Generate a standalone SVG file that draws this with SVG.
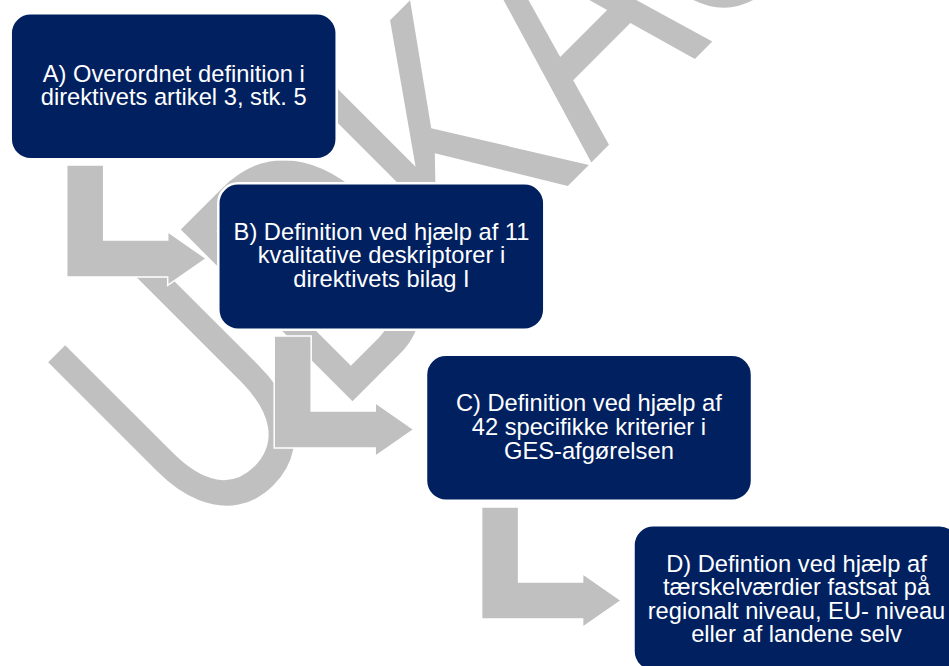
<svg xmlns="http://www.w3.org/2000/svg" width="949" height="666" viewBox="0 0 949 666">
<style>
.box{fill:#002060;stroke:#ffffff;stroke-width:2.5}
.lbl{fill:#ffffff;font-family:"Liberation Sans",Arial,sans-serif;font-size:23.7px;text-anchor:middle}
.arrow{fill:#bfc0bf;stroke:#ffffff;stroke-width:1.5}
.wm{fill:#c0c0c0;font-family:"Liberation Sans",Arial,sans-serif;font-size:258px}
</style>
<defs>
<path id="bend" d="M0,0 h37 v75 h64 v-8.3 l38.5,26.8 l-38.5,26.8 v-8.3 h-101 z"/>
</defs>
<rect width="949" height="666" fill="#ffffff"/>
<text class="wm" transform="translate(205.8,548) rotate(-45) scale(1,1.368)" x="0" y="0">UDKAST</text>
<g id="connectors">
<use href="#bend" class="arrow" transform="translate(66.7,165)"/>
<use href="#bend" class="arrow" transform="translate(274.2,336)"/>
<use href="#bend" class="arrow" transform="translate(481.6,507)"/>
</g>
<g id="nodeA">
<rect class="box" x="10.7" y="13.3" width="326" height="146" rx="20"/>
<text class="lbl" x="173.7" y="82.3">A) Overordnet definition i</text>
<text class="lbl" x="173.7" y="105">direktivets artikel 3, stk. 5</text>
</g>
<g id="nodeB">
<rect class="box" x="218.3" y="183.3" width="326" height="146.5" rx="20"/>
<text class="lbl" x="381.5" y="239.5">B) Definition ved hjælp af 11</text>
<text class="lbl" x="381.5" y="263.2">kvalitative deskriptorer i</text>
<text class="lbl" x="381.5" y="286.5">direktivets bilag I</text>
</g>
<g id="nodeC">
<rect class="box" x="426" y="354.7" width="326" height="146" rx="20"/>
<text class="lbl" x="588.9" y="411.3">C) Definition ved hjælp af</text>
<text class="lbl" x="588.9" y="435">42 specifikke kriterier i</text>
<text class="lbl" x="588.9" y="459">GES-afgørelsen</text>
</g>
<g id="nodeD">
<rect class="box" x="633.5" y="525.3" width="326" height="146" rx="20"/>
<text class="lbl" x="796.5" y="571.7">D) Defintion ved hjælp af</text>
<text class="lbl" x="796.5" y="595.2">tærskelværdier fastsat på</text>
<text class="lbl" x="796.5" y="618.7">regionalt niveau, EU- niveau</text>
<text class="lbl" x="796.5" y="642">eller af landene selv</text>
</g>
</svg>
